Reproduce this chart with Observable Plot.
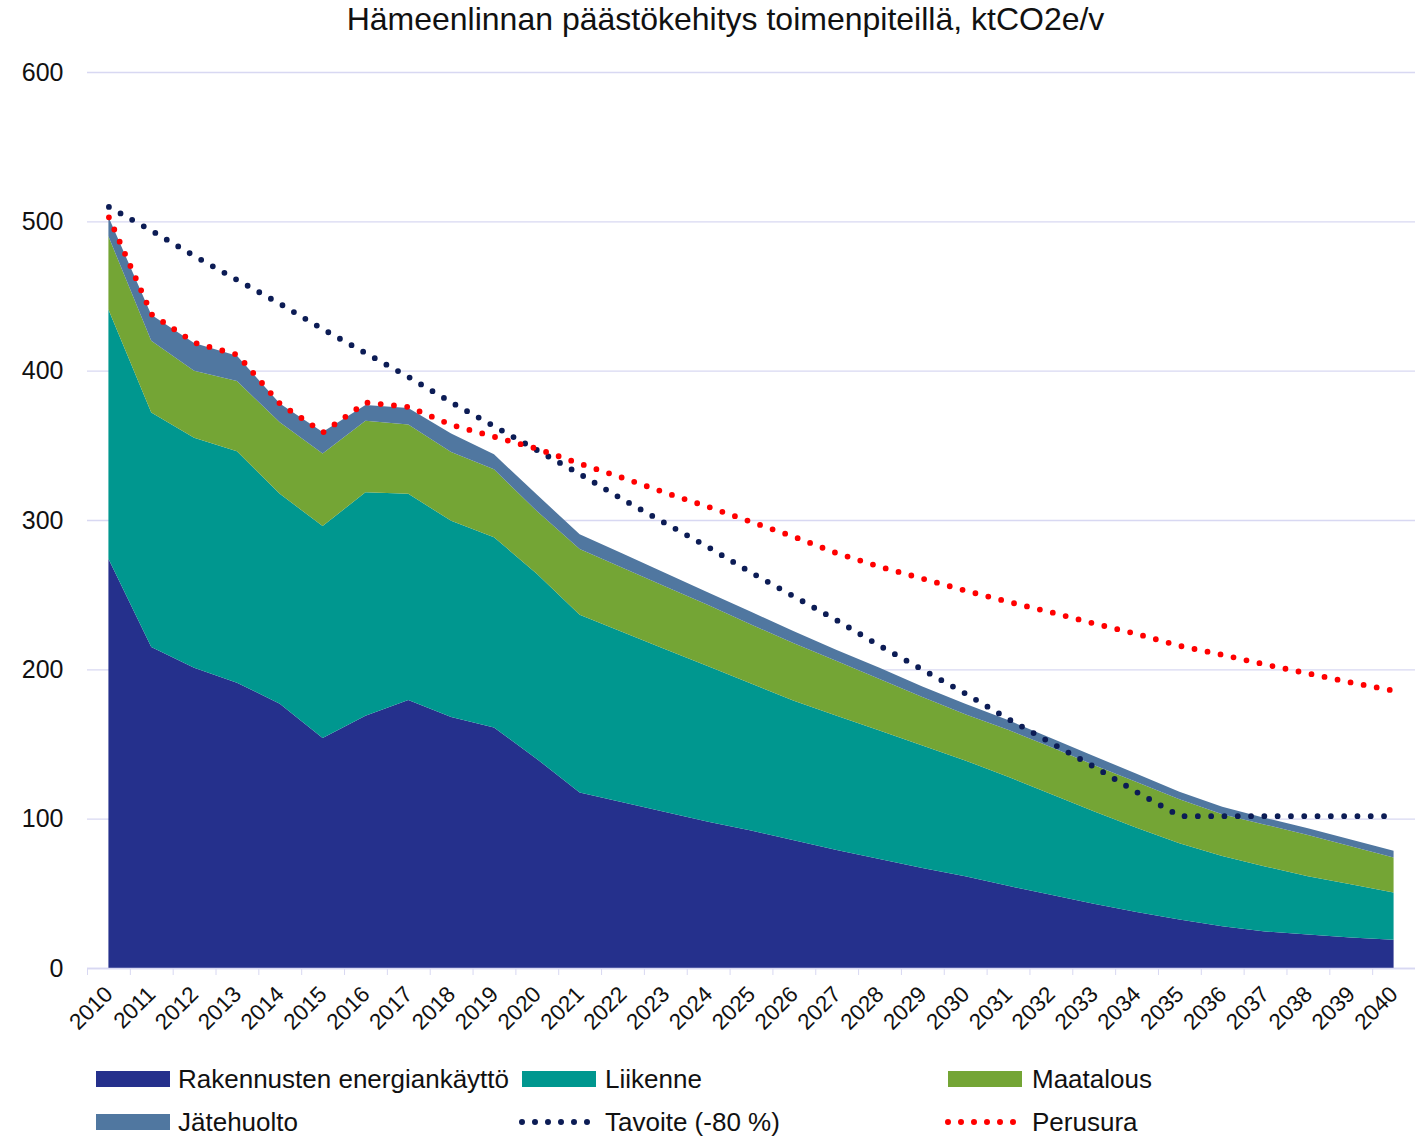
<!DOCTYPE html>
<html><head><meta charset="utf-8">
<script src="https://cdn.jsdelivr.net/npm/d3@7"></script>
<script src="https://cdn.jsdelivr.net/npm/@observablehq/plot@0.6"></script>
<style>
body{margin:0;background:#fff;font-family:"Liberation Sans",Arial,sans-serif;color:#111;}
#wrap{position:relative;width:1415px;height:1138px;overflow:hidden;background:#fff;}
#title{position:absolute;left:0;top:3px;width:1451px;text-align:center;font-size:32px;line-height:32px;white-space:nowrap;}
#chart{position:absolute;left:0;top:40px;}
.sw{position:absolute;}
.lt{position:absolute;font-size:26px;line-height:22px;white-space:nowrap;}
</style></head><body>
<div id="wrap">
<div id="title">Hämeenlinnan päästökehitys toimenpiteillä, ktCO2e/v</div>
<div id="chart"></div>
<div id="legend"></div>
</div>
<script>
const years = [2010,2011,2012,2013,2014,2015,2016,2017,2018,2019,2020,2021,2022,2023,2024,2025,2026,2027,2028,2029,2030,2031,2032,2033,2034,2035,2036,2037,2038,2039,2040];
const seriesNames = ["Rakennusten energiankäyttö","Liikenne","Maatalous","Jätehuolto"];
const rakennukset = [274,215,201,191,177,154,169,179.5,168,161,140,117.5,111,104.5,98,92,85.5,79,73,67,61.5,55,49,43,37.5,32.5,28,24.5,22.5,20.5,19];
const liikenne = [167,157,154,155,140.5,142,149.5,138,131.5,127.5,124,119,114,109,104,98.5,93.5,90,86,82,77.5,73,67.5,62,56.5,51,47,43.5,39,35.5,31.5];
const maatalous = [49,48,45,47,48,48.5,48,46.5,46,45.5,42,44,43,42,41,39.5,38.5,36.5,34.5,32.5,31,31.5,31.5,31,30.5,29.5,28,28,27.5,25.5,23.5];
const jatehuolto = [13,17.5,18.5,17,12.5,14.5,10.5,11,12.5,10,11,10,9.5,9,8.5,8.5,8,7.5,7.5,7,7,6.5,6,6,5.5,5,5,4.5,4.5,4.5,4.5];
const tavoite = [510,494,477,461,445,428,412,396,379,363,347,331,314,298,282,265,249,233,216,200,184,167,151,135,118,102,102,102,102,102,102];
const perusura = [503,438,419,411,378,359,379,376,364,356,348,338,328.5,318.5,309,299,289,278,269,261,253,245.5,238.5,231,224,216,210,203.5,197.5,191.5,186];
const yTicks = [0,100,200,300,400,500,600];
const lineNames = ["Tavoite (-80 %)","Perusura"];

const areaColors = ["#25308c","#00978f","#74a535","#5077a0"];
const lineColors = ["#0c1c55","#ff0000"];
const lavender = "#d8d8f2";

const seriesValues = [rakennukset, liikenne, maatalous, jatehuolto];
const table = seriesNames.flatMap((s,k)=>years.map((yr,i)=>({year:yr, value:seriesValues[k][i], series:s})));
const tav = years.map((yr,i)=>({year:yr, value:tavoite[i]}));
const per = years.map((yr,i)=>({year:yr, value:perusura[i]}));
const boundaries = years.map(y=>y-0.5).concat([years[years.length-1]+0.5]);

const chart = Plot.plot({
  width:1415, height:1003,
  marginLeft:87, marginRight:0, marginTop:32, marginBottom:75,
  style:{fontFamily:"'Liberation Sans', Arial, sans-serif", fontSize:"25px", color:"#111", background:"white", overflow:"visible"},
  x:{type:"linear", domain:[years[0]-0.5, years[years.length-1]+0.5]},
  y:{domain:[0,600]},
  color:{domain:seriesNames, range:areaColors},
  marks:[
    Plot.gridY(yTicks, {stroke:lavender, strokeOpacity:1, strokeWidth:1.3}),
    Plot.areaY(table, {x:"year", y:"value", fill:"series", curve:"linear"}),
    Plot.lineY(tav, {x:"year", y:"value", stroke:lineColors[0], strokeWidth:5.8, strokeDasharray:"0,13.3", strokeLinecap:"round"}),
    Plot.lineY(per, {x:"year", y:"value", stroke:lineColors[1], strokeWidth:5.8, strokeDasharray:"0,13.3", strokeLinecap:"round"}),
    Plot.ruleY([0], {stroke:lavender, strokeWidth:1.5}),
    Plot.axisY(yTicks, {tickSize:0, tickPadding:24, label:null, fontSize:25, fill:"#111"}),
    Plot.axisX(boundaries, {tickSize:7, stroke:lavender, strokeOpacity:1, tickFormat:()=>"", label:null}),
    Plot.axisX(years, {tickSize:0, tickRotate:-45, tickPadding:22, fontSize:22.5, label:null, fill:"#111", tickFormat:d=>String(d)})
  ]
});
document.getElementById("chart").appendChild(chart);

// legend
const items = [
  {name:seriesNames[0], color:areaColors[0], kind:"rect", sx:96, tx:178, row:0},
  {name:seriesNames[1], color:areaColors[1], kind:"rect", sx:522, tx:605, row:0},
  {name:seriesNames[2], color:areaColors[2], kind:"rect", sx:948, tx:1032, row:0},
  {name:seriesNames[3], color:areaColors[3], kind:"rect", sx:96, tx:178, row:1},
  {name:lineNames[0], color:lineColors[0], kind:"dot", sx:518, tx:605, row:1},
  {name:lineNames[1], color:lineColors[1], kind:"dot", sx:944, tx:1032, row:1}
];
const rowCenter = [1079, 1122];
items.forEach(it=>{
  const cy = rowCenter[it.row];
  const svgNS = "http://www.w3.org/2000/svg";
  const s = document.createElementNS(svgNS,"svg");
  s.setAttribute("width",78); s.setAttribute("height",20);
  s.setAttribute("class","sw");
  s.style.left = it.sx+"px"; s.style.top = (cy-10)+"px";
  if (it.kind==="rect"){
    const r = document.createElementNS(svgNS,"rect");
    r.setAttribute("x",0); r.setAttribute("y",2); r.setAttribute("width",74); r.setAttribute("height",16);
    r.setAttribute("fill",it.color);
    s.appendChild(r);
  } else {
    const l = document.createElementNS(svgNS,"line");
    l.setAttribute("x1",4); l.setAttribute("x2",74); l.setAttribute("y1",10); l.setAttribute("y2",10);
    l.setAttribute("stroke",it.color); l.setAttribute("stroke-width",6);
    l.setAttribute("stroke-dasharray","0 13"); l.setAttribute("stroke-linecap","round");
    s.appendChild(l);
  }
  document.getElementById("wrap").appendChild(s);
  const t = document.createElement("div");
  t.className="lt"; t.textContent = it.name;
  t.style.left = it.tx+"px"; t.style.top = (cy-11)+"px";
  document.getElementById("wrap").appendChild(t);
});
</script>
</body></html>
